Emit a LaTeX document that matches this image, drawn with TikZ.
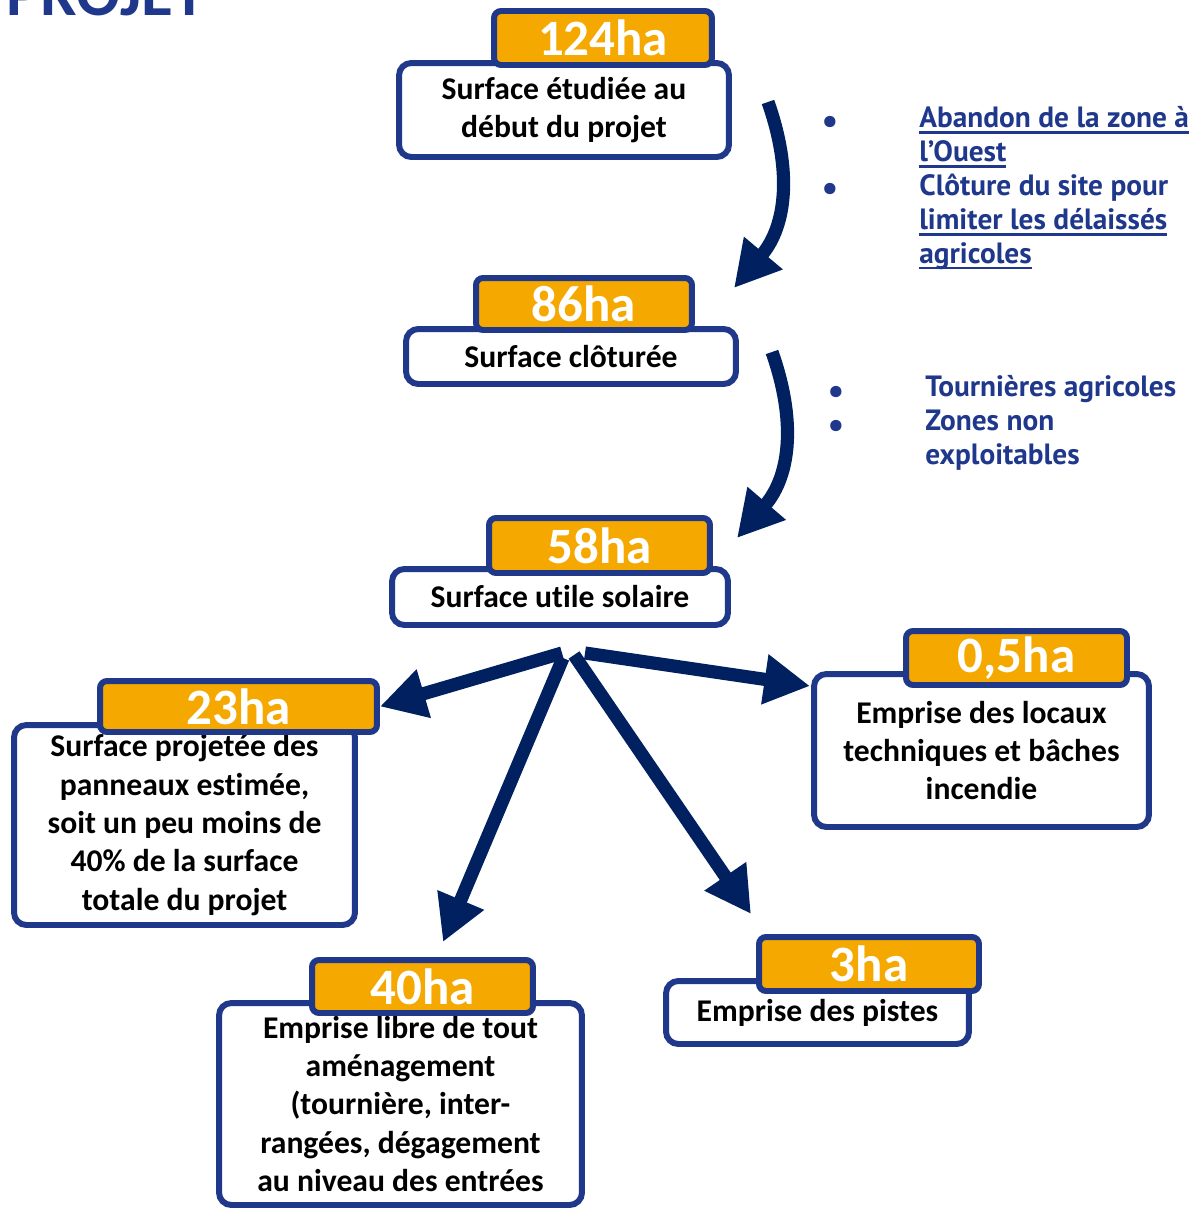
\documentclass[tikz,border=0pt]{standalone}
\usepackage{fontspec}
\setmainfont{Carlito}[Ligatures=NoCommon]
\newfontfamily\dinfont{PT Sans}
\newcommand{\barunder}[1]{\setbox0\hbox{#1}\rlap{\rule[-3.6pt]{\wd0}{1.6pt}}\box0}
\usetikzlibrary{arrows.meta}
\definecolor{boxblue}{RGB}{31,56,138}
\definecolor{textblue}{RGB}{31,56,140}
\definecolor{arrownavy}{RGB}{0,32,96}
\definecolor{haorange}{RGB}{245,168,0}
\begin{document}
\begin{tikzpicture}[x=0.02cm,y=-0.02cm,
    whitebox/.style={draw=boxblue, line width=3.4pt, rounded corners=7pt, fill=white,
      align=center, inner sep=0pt, font=\bfseries\fontsize{18}{21.8}\selectfont},
    orangebox/.style={draw=boxblue, line width=3.4pt, rounded corners=4pt, fill=haorange,
      text=white, inner sep=0pt, font=\bfseries\fontsize{29}{30}\selectfont},
    bluetext/.style={text=textblue, anchor=north west, align=left, inner sep=0pt,
      font=\dinfont\bfseries\fontsize{16.7}{19.3}\selectfont},
    bulletdot/.style={text=textblue, inner sep=0pt, font=\dinfont\bfseries\fontsize{21}{21}\selectfont},
    thickarrow/.style={draw=arrownavy, line width=7.5pt, -{Triangle[length=26pt,width=27pt]}}]
  \useasboundingbox (0,0) rectangle (1198,1211);
  \clip (0,0) rectangle (1198,1211);

  \node[anchor=base east, inner sep=0pt, text=textblue,
    font=\bfseries\fontsize{37}{40}\selectfont] (title) at (206,15) {PROJET};

  % boxes
  \node[whitebox, minimum width=6.6cm, minimum height=1.88cm] (b124) at (564,110)
    {Surface étudiée au\\début du projet};
  \node[orangebox, minimum width=4.36cm, minimum height=1.08cm] (o124) at (603,38) {124ha};

  \node[whitebox, minimum width=6.6cm, minimum height=1.1cm] (b86) at (571,356.5)
    {Surface clôturée};
  \node[orangebox, minimum width=4.32cm, minimum height=1.04cm] (o86) at (584,304) {86ha};

  \node[whitebox, minimum width=6.72cm, minimum height=1.12cm] (b58) at (560,597)
    {Surface utile solaire};
  \node[orangebox, minimum width=4.42cm, minimum height=1.1cm] (o58) at (599.5,545.5) {58ha};

  \node[whitebox, minimum width=6.82cm, minimum height=4cm] (b23) at (184.5,825)
    {Surface projetée des\\panneaux estimée,\\soit un peu moins de\\40\% de la surface\\totale du projet};
  \node[orangebox, minimum width=5.54cm, minimum height=1.02cm] (o23) at (238.5,706.5) {23ha};

  \node[whitebox, minimum width=7.26cm, minimum height=4.04cm] (b40) at (400.5,1104)
    {Emprise libre de tout\\aménagement\\(tournière, inter-\\rangées, dégagement\\au niveau des entrées};
  \node[orangebox, minimum width=4.42cm, minimum height=1.06cm] (o40) at (422.5,986.5) {40ha};

  \node[whitebox, minimum width=6.7cm, minimum height=3.06cm] (b05) at (981.5,750.5)
    {Emprise des locaux\\techniques et bâches\\incendie};
  \node[orangebox, minimum width=4.42cm, minimum height=1.08cm] (o05) at (1016.5,658) {0,5ha};

  \node[whitebox, minimum width=6.06cm, minimum height=1.26cm] (b3) at (817.5,1012.5)
    {Emprise des pistes};
  \node[orangebox, minimum width=4.4cm, minimum height=1.08cm] (o3) at (869,964) {3ha};

  % notes
  \node[bulletdot] (dot1) at (830,125) {•};
  \node[bulletdot] (dot2) at (830,192) {•};
  \node[bluetext] (notes1) at (919,106)
    {\barunder{Abandon de la zone à}\\\barunder{l’Ouest}\\Clôture du site pour\\\barunder{limiter les délaissés}\\\barunder{agricoles}};
  \node[bulletdot] (dot3) at (836,395) {•};
  \node[bulletdot] (dot4) at (836,429) {•};
  \node[bluetext] (notes2) at (925,375)
    {Tournières agricoles\\Zones non\\exploitables};

  % arrows
  \coordinate (c1s) at (768,102);
  \coordinate (c1e) at (734,288);
  \coordinate (c2s) at (772,352);
  \coordinate (c2e) at (737,538);
  \draw[thickarrow] (c1s) .. controls (792,170) and (787,225) .. (c1e);
  \draw[thickarrow] (c2s) .. controls (796,420) and (791,475) .. (c2e);

  \coordinate (fanl) at (562,653);
  \coordinate (fandl) at (563,658);
  \coordinate (fandr) at (574,655);
  \coordinate (fanr) at (585,653);
  \coordinate (tip40) at (443,942);
  \coordinate (tip3) at (751,914);
  \coordinate (tip05) at (810,686);
  \draw[thickarrow] (fanl) -- (o23.east);
  \draw[thickarrow] (fandl) -- (tip40);
  \draw[thickarrow] (fandr) -- (tip3);
  \draw[thickarrow] (fanr) -- (tip05);
\end{tikzpicture}
\end{document}
